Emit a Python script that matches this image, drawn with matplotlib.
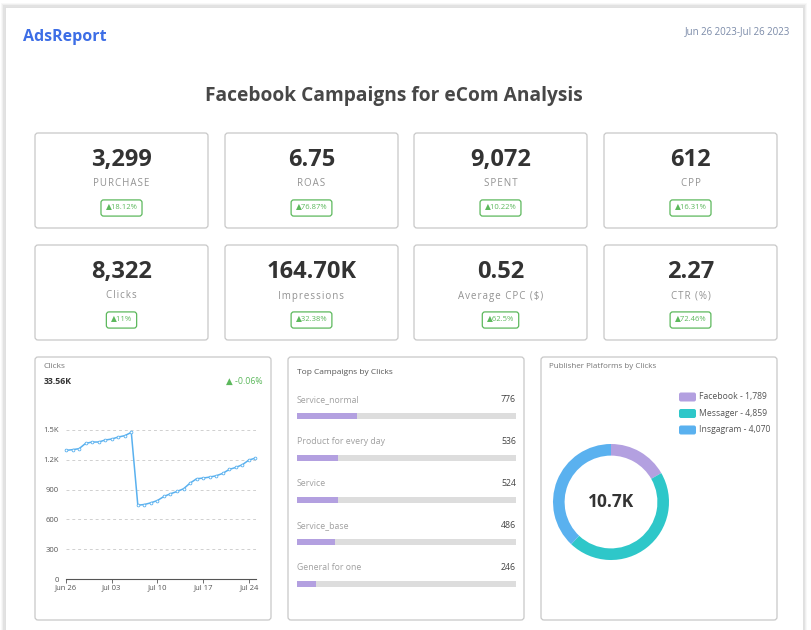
import numpy as np
import matplotlib.pyplot as plt
from matplotlib.patches import FancyBboxPatch, Rectangle

plt.rcParams['font.family'] = ['Open Sans', 'DejaVu Sans']

# ---- data ----
kpi_values = ['3,299', '6.75', '9,072', '612', '8,322', '164.70K', '0.52', '2.27']
kpi_labels = ['PURCHASE', 'ROAS', 'SPENT', 'CPP', 'Clicks', 'Impressions',
              'Average CPC ($)', 'CTR (%)']
kpi_change = ['18.12%', '76.87%', '10.22%', '16.31%', '11%', '32.38%', '62.5%', '72.46%']

daily_clicks = [1295, 1302, 1312, 1365, 1379, 1379, 1399, 1409, 1429, 1443, 1476,
                743, 750, 767, 790, 831, 858, 881, 908, 965, 1009, 1016, 1026,
                1039, 1063, 1103, 1123, 1150, 1197, 1217]
date_ticks = [0, 7, 14, 21, 28]
date_labels = ['Jun 26', 'Jul 03', 'Jul 10', 'Jul 17', 'Jul 24']

campaigns = ['Service_normal', 'Product for every day', 'Service', 'Service_base',
             'General for one']
campaign_clicks = [776, 536, 524, 486, 246]
campaign_total = 2830

platforms = ['Facebook', 'Messager', 'Insgagram']
platform_clicks = [1789, 4859, 4070]

W, H = 811, 630
purple = '#b3a0e0'
teal = '#2ec7c9'
blue = '#5ab1ef'
green = '#5cb85c'

fig = plt.figure(figsize=(W / 100, H / 100), dpi=100)
bg = fig.add_axes([0, 0, 1, 1])
bg.set_xlim(0, W)
bg.set_ylim(H, 0)
bg.axis('off')


def ax_at(x0, y0, x1, y1):
    '''axes placed by pixel box (top-left origin)'''
    return fig.add_axes([x0 / W, 1 - y1 / H, (x1 - x0) / W, (y1 - y0) / H])


def card(x0, y0, x1, y1):
    bg.add_patch(FancyBboxPatch((x0, y0), x1 - x0, y1 - y0,
                                boxstyle='round,pad=0,rounding_size=3',
                                fc='white', ec='#c8c8c8', lw=0.9))


def spaced(s):
    # a bit of letter spacing, like the css version
    return '\u200a'.join(s)


# outer page with shadow
for i, a in enumerate([0.05, 0.08, 0.12]):
    d = 4 - i
    bg.add_patch(Rectangle((5 - d, 7 - d), 798 + 2 * d, 640, fc='#888888',
                           ec='none', alpha=a))
bg.add_patch(Rectangle((5, 7), 798, 640, fc='white', ec='#dddddd', lw=0.6))

bg.text(23, 37, 'AdsReport', color='#3d6ee6', fontsize=11.5, fontweight='bold',
        va='center', ha='left')
bg.text(790, 32, 'Jun 26 2023-Jul 26 2023', color='#7a8aa8', fontsize=7,
        va='center', ha='right')
bg.text(394, 96, 'Facebook Campaigns for eCom Analysis', color='#474747',
        fontsize=13.8, fontweight='bold', va='center', ha='center')

# KPI cards
col_x = [35, 225, 414, 604]
row_y = [133, 245]
for k in range(8):
    x0 = col_x[k % 4]
    y0 = row_y[k // 4]
    card(x0, y0, x0 + 173, y0 + 95)
    cx = x0 + 86.5
    bg.text(cx, y0 + 27, kpi_values[k], color='#333333', fontsize=17,
            fontweight='bold', ha='center', va='center')
    bg.text(cx, y0 + 51, spaced(kpi_labels[k]), color='#929292', fontsize=7,
            ha='center', va='center')
    bg.text(cx, y0 + 75, '\u25b2' + kpi_change[k], color=green, fontsize=5.5,
            ha='center', va='center',
            bbox=dict(boxstyle='round,pad=0.6,rounding_size=0.35', fc='white',
                      ec=green, lw=0.9))

# bottom panels
card(35, 357, 271, 620)
card(288, 357, 524, 620)
card(541, 357, 777, 620)

# --- Clicks line chart
bg.text(44, 366, 'Clicks', color='#777777', fontsize=6, va='center')
bg.text(44, 381, '33.56K', color='#333333', fontsize=6.3, fontweight='bold',
        va='center')
bg.text(263, 381, '\u25b2 -0.06%', color=green, fontsize=6.3, va='center',
        ha='right')

ax = ax_at(66, 430, 256, 579)
days = np.arange(len(daily_clicks))
ax.plot(days, daily_clicks, color=blue, lw=1.1, marker='o', ms=2.0,
        mfc='white', mec=blue, mew=0.6, clip_on=False, zorder=3)
ax.set_xlim(0, 29.1)
ax.set_ylim(0, 1500)
ax.set_yticks([0, 300, 600, 900, 1200, 1500])
ax.set_yticklabels(['0', '300', '600', '900', '1.2K', '1.5K'])
ax.set_xticks(date_ticks)
ax.set_xticklabels(date_labels)
ax.tick_params(axis='y', length=0, pad=5, labelsize=5.5, labelcolor='#555555')
ax.tick_params(axis='x', length=3, width=0.6, color='#555555', pad=1,
               labelsize=5.5, labelcolor='#555555')
ax.grid(axis='y', ls=(0, (3, 3)), color='#d0d0d0', lw=0.7)
for s in ['top', 'right', 'left']:
    ax.spines[s].set_visible(False)
ax.spines['bottom'].set_color('#555555')
ax.spines['bottom'].set_linewidth(0.8)
ax.set_facecolor('none')

# --- Top campaigns bars
bg.text(297, 372, 'Top Campaigns by Clicks', color='#555555', fontsize=6,
        va='center')
bx = ax_at(297, 390, 516, 600)
bx.set_xlim(0, campaign_total)
ypos = np.arange(len(campaigns)) * 42
bx.set_ylim(200, -10)
bx.axis('off')
bx.barh(ypos + 16, [campaign_total] * len(campaigns), height=6.5,
        color='#dddddd', left=0)
bx.barh(ypos + 16, campaign_clicks, height=6.5, color=purple, left=0)
for yy, name, v in zip(ypos, campaigns, campaign_clicks):
    bx.text(0, yy, name, color='#a0a0a0', fontsize=6.3, va='center',
            ha='left')
    bx.text(campaign_total, yy, f'{v}', color='#444444', fontsize=6.3,
            va='center', ha='right')

# --- Publisher donut
bg.text(549, 366, 'Publisher Platforms by Clicks', color='#777777', fontsize=5.8,
        va='center')
dx = ax_at(553, 444, 669, 560)
dx.pie(platform_clicks, colors=[purple, teal, blue], startangle=90,
       counterclock=False, radius=1.0,
       wedgeprops=dict(width=0.2, edgecolor='none'))
dx.set_xlim(-1, 1)
dx.set_ylim(-1, 1)
dx.set_aspect('equal')
total = sum(platform_clicks)
dx.text(0, 0, f'{total / 1000:.1f}K', fontsize=12.5, fontweight='bold',
        color='#333333', ha='center', va='center')

for i, (name, v, c) in enumerate(zip(platforms, platform_clicks,
                                      [purple, teal, blue])):
    yy = 397 + i * 16.5
    bg.add_patch(FancyBboxPatch((679, yy - 4.5), 17, 9,
                                boxstyle='round,pad=0,rounding_size=2',
                                fc=c, ec='none'))
    bg.text(699, yy, f'{name} - {v:,}', color='#555555', fontsize=6.2,
            va='center', ha='left')

fig.savefig('out.png', dpi=100, facecolor='white')
